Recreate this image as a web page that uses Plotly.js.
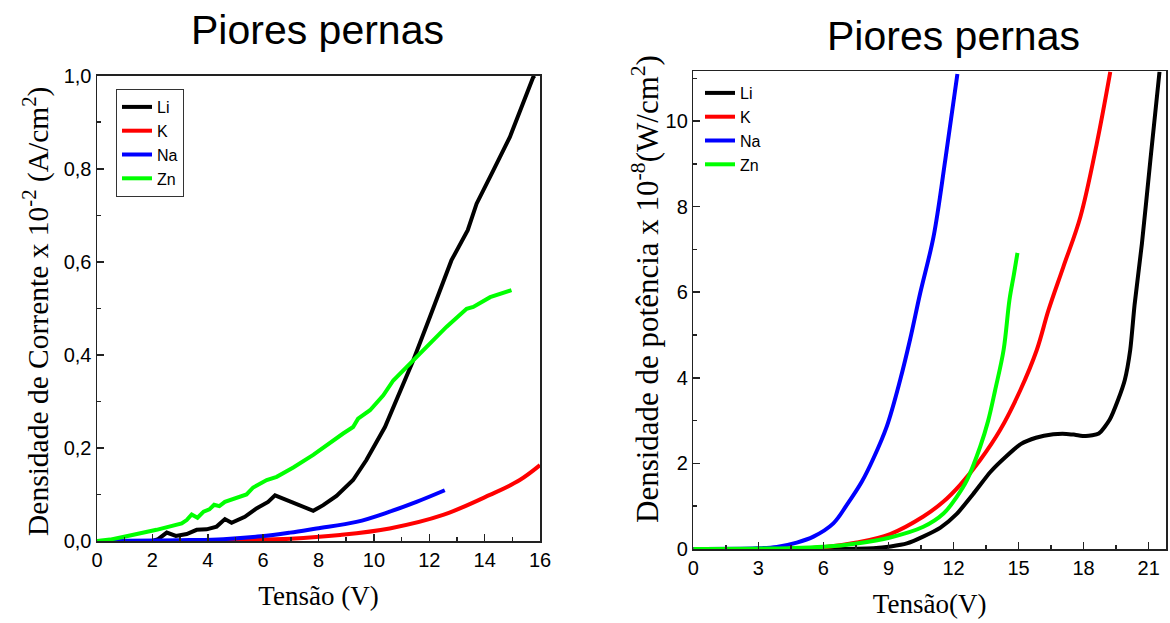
<!DOCTYPE html>
<html>
<head>
<meta charset="utf-8">
<script src="https://cdn.plot.ly/plotly-3.0.1.min.js"></script>
<style>html,body{margin:0;padding:0;background:#fff;}#chart{width:1170px;height:623px;}</style>
</head>
<body>
<div id="chart"></div>
<script>
// ---------- Left chart: current density (x 10^-2 A/cm^2) vs voltage ----------
const seriesNames = ["Li", "K", "Na", "Zn"];
const seriesColors = ["#000000", "#ff0000", "#0000ff", "#00ff00"];

const curLiX = [0, 1, 2.0, 2.21, 2.52, 2.85, 3.24, 3.6, 3.96, 4.32, 4.62, 4.86, 5.34, 5.76, 6.18, 6.43, 7.81, 8.17, 8.65, 9.25, 9.73, 10.4, 11.12, 11.42, 12.02, 12.8, 13.39, 13.71, 14.31, 14.91, 15.75, 15.8];
const curLiY = [0, 0, 0, 0.004, 0.018, 0.011, 0.015, 0.024, 0.025, 0.031, 0.047, 0.039, 0.052, 0.070, 0.084, 0.098, 0.065, 0.077, 0.097, 0.131, 0.174, 0.245, 0.345, 0.388, 0.481, 0.603, 0.668, 0.725, 0.796, 0.868, 0.996, 1.0];

const curKX = [0, 3, 5.15, 6.97, 8.78, 10.57, 12.5, 14.19, 15.27, 16.0];
const curKY = [0, 0, 0.002, 0.005, 0.013, 0.027, 0.056, 0.099, 0.131, 0.163];

const curNaX = [0, 2.15, 3.36, 4.56, 5.92, 6.97, 7.93, 9.37, 10.57, 11.54, 12.56];
const curNaY = [0, 0.001, 0.002, 0.004, 0.010, 0.018, 0.027, 0.041, 0.063, 0.084, 0.109];

const curZnX = [0, 0.47, 1.19, 2.15, 3.06, 3.24, 3.42, 3.63, 3.85, 4.06, 4.23, 4.42, 4.62, 4.92, 5.40, 5.64, 6.13, 6.49, 7.09, 7.81, 8.29, 8.59, 8.89, 9.25, 9.43, 9.86, 10.34, 10.7, 11.42, 12.62, 13.35, 13.59, 14.2, 14.97];
const curZnY = [0, 0.003, 0.012, 0.024, 0.038, 0.045, 0.057, 0.050, 0.063, 0.068, 0.078, 0.075, 0.084, 0.090, 0.100, 0.115, 0.131, 0.138, 0.158, 0.185, 0.206, 0.217, 0.231, 0.245, 0.263, 0.281, 0.313, 0.345, 0.388, 0.460, 0.499, 0.503, 0.524, 0.539];

// ---------- Right chart: power density (x 10^-8 W/cm^2) vs voltage ----------
const powLiX = [0, 6, 8.3, 9.1, 9.85, 10.6, 11.4, 12.15, 12.9, 13.7, 14.4, 15.1, 15.8, 16.6, 17.2, 17.6, 18.1, 18.7, 19.2, 19.6, 19.9, 20.15, 20.35, 20.69, 21.08, 21.5];
const powLiY = [0, 0, 0.02, 0.06, 0.13, 0.29, 0.5, 0.82, 1.28, 1.8, 2.15, 2.45, 2.6, 2.68, 2.69, 2.67, 2.64, 2.7, 3.02, 3.5, 3.95, 4.65, 5.7, 7.14, 9.09, 11.15];

const powKX = [0, 4.5, 6, 7.54, 9.08, 10.61, 11.54, 12.31, 13.23, 14.15, 15.08, 15.84, 16.38, 17.07, 17.85, 18.61, 19.23];
const powKY = [0, 0.01, 0.04, 0.15, 0.35, 0.76, 1.11, 1.5, 2.08, 2.78, 3.71, 4.65, 5.58, 6.6, 7.76, 9.48, 11.15];

const powNaX = [0, 2.92, 3.85, 4.77, 5.54, 6.46, 7.08, 7.77, 8.31, 8.92, 9.54, 10.0, 10.46, 11.08, 11.62, 12.18];
const powNaY = [0, 0.016, 0.05, 0.15, 0.29, 0.6, 1.03, 1.57, 2.12, 2.86, 3.95, 4.9, 5.97, 7.3, 9.09, 11.1];

const powZnX = [0, 4.5, 6, 7.54, 9.08, 10.61, 11.54, 12.15, 12.62, 13.23, 13.6, 13.92, 14.31, 14.58, 14.78, 14.95];
const powZnY = [0, 0.02, 0.05, 0.13, 0.27, 0.52, 0.83, 1.22, 1.61, 2.39, 3.0, 3.71, 4.65, 5.82, 6.4, 6.92];

const titleText = "Piores pernas";
const xTitleLeft = "Tensão (V)";
const xTitleRight = "Tensão(V)";
const yTitleLeft = "Densidade de Corrente x 10<sup>-2</sup> (A/cm<sup>2</sup>)";
const yTitleRight = "Densidade de potência x 10<sup>-8</sup>(W/cm<sup>2</sup>)";

const leftData = [[curLiX, curLiY], [curKX, curKY], [curNaX, curNaY], [curZnX, curZnY]];
const rightData = [[powLiX, powLiY], [powKX, powKY], [powNaX, powNaY], [powZnX, powZnY]];
const leftShapes = ["linear", "spline", "spline", "linear"];
const rightSmoothing = [0.6, 1.0, 1.0, 1.0];

const traces = [];
leftData.forEach((d, i) => traces.push({
  x: d[0], y: d[1], type: "scatter", mode: "lines", name: seriesNames[i],
  line: {color: seriesColors[i], width: 4, shape: leftShapes[i], smoothing: 1.0},
  xaxis: "x", yaxis: "y", legend: "legend"
}));
rightData.forEach((d, i) => traces.push({
  x: d[0], y: d[1], type: "scatter", mode: "lines", name: seriesNames[i],
  line: {color: seriesColors[i], width: 4, shape: "spline", smoothing: rightSmoothing[i]},
  xaxis: "x2", yaxis: "y2", legend: "legend2"
}));

const sans = "Arial, 'Liberation Sans', sans-serif";
const serif = "'Times New Roman', 'Liberation Serif', serif";

function axisBase() {
  return {
    showline: true, linecolor: "#222", linewidth: 1.5, mirror: true,
    ticks: "inside", ticklen: 7, tickwidth: 1.5, tickcolor: "#222",
    showgrid: false, zeroline: false,
    tickfont: {family: sans, size: 20, color: "#000"},
    fixedrange: true
  };
}

const layout = {
  width: 1170, height: 623,
  margin: {l: 0, r: 0, t: 0, b: 0},
  paper_bgcolor: "#fff", plot_bgcolor: "#fff",
  separators: ",.",
  showlegend: true,
  xaxis: Object.assign(axisBase(), {
    domain: [97/1170, 540/1170], range: [0, 16], dtick: 2, tick0: 0,
    minor: {dtick: 1, ticks: "inside", ticklen: 4, tickcolor: "#222"},
    title: {text: xTitleLeft, font: {family: serif, size: 27, color: "#000"}, standoff: 16},
    anchor: "y"
  }),
  yaxis: Object.assign(axisBase(), {
    domain: [(623-541)/623, (623-75.7)/623], range: [0, 1.0], dtick: 0.2, tick0: 0,
    tickformat: ".1f",
    minor: {dtick: 0.1, ticks: "inside", ticklen: 4, tickcolor: "#222"},
    anchor: "x"
  }),
  xaxis2: Object.assign(axisBase(), {
    domain: [693.3/1170, 1166/1170], range: [0, 21.8], dtick: 3, tick0: 0,
    minor: {dtick: 1.5, ticks: "inside", ticklen: 4, tickcolor: "#222"},
    title: {text: xTitleRight, font: {family: serif, size: 27, color: "#000"}, standoff: 16},
    anchor: "y2"
  }),
  yaxis2: Object.assign(axisBase(), {
    domain: [(623-549)/623, (623-71)/623], range: [0, 11.17], dtick: 2, tick0: 0,
    minor: {dtick: 1, ticks: "inside", ticklen: 4, tickcolor: "#222"},
    anchor: "x2"
  }),
  legend: {
    x: 116/1170, y: (623-89)/623, xanchor: "left", yanchor: "top",
    bordercolor: "#333", borderwidth: 1, bgcolor: "#fff",
    font: {family: sans, size: 16, color: "#000"},
    itemwidth: 30, tracegroupgap: 0
  },
  legend2: {
    x: 700/1170, y: (623-76)/623, xanchor: "left", yanchor: "top",
    borderwidth: 0, bgcolor: "rgba(0,0,0,0)",
    font: {family: sans, size: 16, color: "#000"},
    itemwidth: 30, tracegroupgap: 0
  },
  annotations: [
    {text: titleText, xref: "paper", yref: "paper", x: 317/1170, y: (623-30)/623,
     xanchor: "center", yanchor: "middle", showarrow: false,
     font: {family: sans, size: 41, color: "#000"}},
    {text: titleText, xref: "paper", yref: "paper", x: 953/1170, y: (623-36)/623,
     xanchor: "center", yanchor: "middle", showarrow: false,
     font: {family: sans, size: 41, color: "#000"}},
    {text: yTitleLeft, xref: "paper", yref: "paper", x: 36/1170, y: (623-312)/623,
     xanchor: "center", yanchor: "middle", textangle: -90, showarrow: false,
     font: {family: serif, size: 29.5, color: "#000"}},
    {text: yTitleRight, xref: "paper", yref: "paper", x: 645/1170, y: (623-289)/623,
     xanchor: "center", yanchor: "middle", textangle: -90, showarrow: false,
     font: {family: serif, size: 31, color: "#000"}}
  ]
};

Plotly.newPlot("chart", traces, layout, {staticPlot: true, displayModeBar: false});
</script>
</body>
</html>
